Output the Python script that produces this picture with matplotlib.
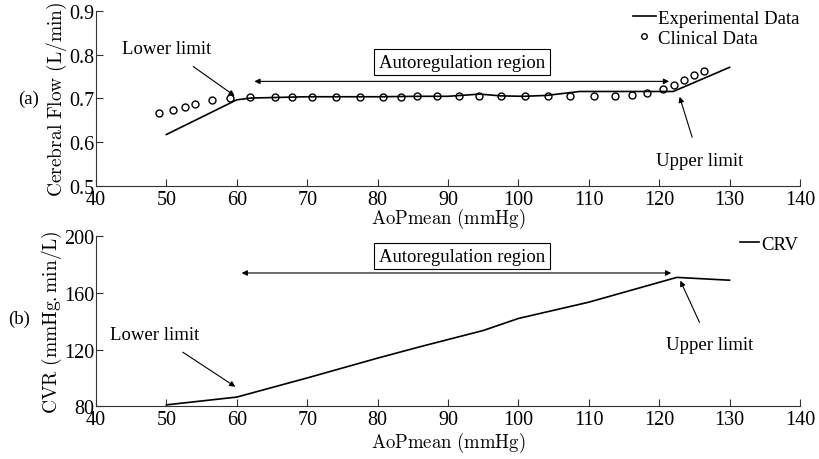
import matplotlib
matplotlib.use("Agg")
import matplotlib.pyplot as plt

plt.rcParams["font.family"] = ["Liberation Serif", "DejaVu Serif"]
plt.rcParams["mathtext.fontset"] = "cm"

# (a) cerebral flow
exp_x = [50, 60, 62, 70, 80, 86, 90, 94.5, 97.5, 100.7, 104, 108.7, 122, 130]
exp_y = [0.618, 0.697, 0.701, 0.704, 0.704, 0.705, 0.705, 0.710, 0.706, 0.705, 0.707, 0.716, 0.716, 0.771]
clin_x = [49.0, 50.9, 52.7, 54.1, 56.5, 59.0, 61.9, 65.4, 67.8, 70.7, 74.1, 77.5, 80.7, 83.3,
          85.6, 88.4, 91.6, 94.4, 97.6, 100.9, 104.2, 107.4, 110.8, 113.7, 116.2, 118.2,
          120.5, 122.1, 123.5, 125.0, 126.4]
clin_y = [0.668, 0.674, 0.680, 0.687, 0.696, 0.700, 0.703, 0.703, 0.703, 0.703, 0.703, 0.703, 0.703, 0.704,
          0.705, 0.705, 0.705, 0.706, 0.705, 0.706, 0.706, 0.706, 0.706, 0.706, 0.707, 0.712,
          0.721, 0.730, 0.742, 0.753, 0.763]

# (b) cerebrovascular resistance
crv_x = [50, 60, 70, 80, 86, 95, 100, 110, 122.5, 130]
crv_y = [81, 86.5, 100, 114, 122, 133.5, 142, 153.5, 171, 169]

fig = plt.figure(figsize=(8.19, 4.6), dpi=100)
ax1 = fig.add_axes([0.1172, 0.5928, 0.8596, 0.3818])
ax2 = fig.add_axes([0.1172, 0.1146, 0.8596, 0.3695])

for ax in (ax1, ax2):
    ax.spines["top"].set_visible(False)
    ax.spines["right"].set_visible(False)
    ax.spines["left"].set_color("#333333")
    ax.spines["bottom"].set_color("#333333")
    ax.tick_params(direction="in", length=5, labelsize=14.5, pad=1, color="#333333")
    ax.tick_params(axis="x", pad=3)
    ax.set_xlim(40, 140)
    ax.set_xticks(range(40, 141, 10))
    ax.set_xlabel(r"$\mathrm{AoPmean\ (mmHg)}$", fontsize=13.5, va="center")

box_kw = dict(boxstyle="square,pad=0.25", fc="white", ec="black", lw=0.8)
dbl = dict(arrowstyle="<|-|>", color="black", lw=0.8, mutation_scale=8)
one = dict(arrowstyle="-|>", color="black", lw=0.8, mutation_scale=8, shrinkA=9, shrinkB=0)
fs = 13.5

# top panel
ax1.plot(exp_x, exp_y, color="black", lw=1.2, label="Experimental Data")
ax1.plot(clin_x, clin_y, "o", mfc="none", mec="black", ms=5, mew=1, label="Clinical Data")
ax1.set_ylim(0.5, 0.9)
ax1.set_yticks([0.5, 0.6, 0.7, 0.8, 0.9])
ax1.set_ylabel(r"$\mathrm{Cerebral\ Flow\ (L/min)}$", fontsize=14, va="center")
ax1.yaxis.set_label_coords(-0.056, 0.5)
ax1.xaxis.set_label_coords(0.5, -0.178)
ax1.annotate("", xy=(62.1, 0.739), xytext=(121.8, 0.739), arrowprops=dbl)
ax1.text(92, 0.783, "Autoregulation region", ha="center", va="center", fontsize=fs, bbox=box_kw)
ax1.annotate("Lower limit", xy=(59.7, 0.706), xytext=(50.1, 0.815), ha="center", va="center",
             fontsize=fs, arrowprops=one)
ax1.annotate("Upper limit", xy=(122.9, 0.704), xytext=(125.7, 0.559), ha="center", va="center",
             fontsize=fs, arrowprops=one)
ax1.legend(loc="upper left", bbox_to_anchor=(0.763, 1.005), frameon=False, fontsize=fs,
           handlelength=1.2, handletextpad=0.15, borderpad=0, borderaxespad=0,
           labelspacing=0.15, numpoints=1, markerscale=0.8)
fig.text(0.022, 0.785, "(a)", fontsize=fs, ha="left", va="center")

# bottom panel
ax2.plot(crv_x, crv_y, color="black", lw=1.2, label="CRV")
ax2.set_ylim(80, 200)
ax2.set_yticks([80, 120, 160, 200])
ax2.set_ylabel(r"$\mathrm{CVR\ (mmHg.min/L)}$", fontsize=14, va="center")
ax2.yaxis.set_label_coords(-0.0625, 0.5)
ax2.xaxis.set_label_coords(0.5, -0.21)
ax2.annotate("", xy=(60.3, 174.1), xytext=(122.1, 174.1), arrowprops=dbl)
ax2.text(92, 186.1, "Autoregulation region", ha="center", va="center", fontsize=fs, bbox=box_kw)
ax2.annotate("Lower limit", xy=(59.8, 93.8), xytext=(48.4, 131), ha="center", va="center",
             fontsize=fs, arrowprops=one)
ax2.annotate("Upper limit", xy=(123.0, 168.7), xytext=(127.2, 123.3), ha="center", va="center",
             fontsize=fs, arrowprops=one)
ax2.legend(loc="upper left", bbox_to_anchor=(0.915, 1.005), frameon=False, fontsize=fs,
           handlelength=1.0, handletextpad=0.15, borderpad=0, borderaxespad=0)
fig.text(0.010, 0.305, "(b)", fontsize=fs, ha="left", va="center")

fig.savefig("out.png", dpi=100)
